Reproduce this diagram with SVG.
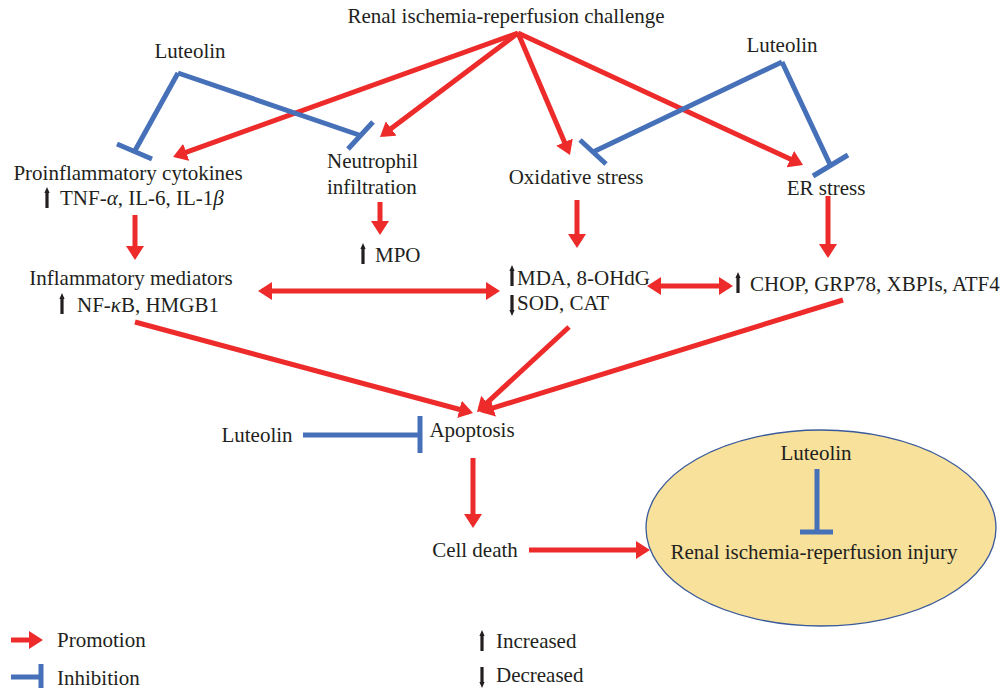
<svg xmlns="http://www.w3.org/2000/svg" width="1001" height="688" viewBox="0 0 1001 688" font-family="'Liberation Serif', 'Times New Roman', serif">
<style>
text{font-family:'Liberation Serif','Times New Roman',serif;font-size:21px;fill:#231f20}
.c{text-anchor:middle}
.r{stroke:#ED2B2A;stroke-width:5;fill:none;marker-end:url(#ah)}
.rr{stroke:#ED2B2A;stroke-width:5;fill:none;marker-end:url(#ah);marker-start:url(#ah)}
.b{stroke:#4670B8;stroke-width:5;fill:none}
.k{fill:#231f20}
</style>
<defs>
<marker id="ah" markerUnits="userSpaceOnUse" markerWidth="14" markerHeight="18" refX="10" refY="9" orient="auto-start-reverse">
<path d="M0,0 L14,9 L0,18 Z" fill="#ED2B2A"/>
</marker>
<path id="up" d="M0,0 L2.6,6 L1.6,6 L1.6,21 L-1.6,21 L-1.6,6 L-2.6,6 Z"/>
<path id="dn" d="M0,21 L2.6,15 L1.6,15 L1.6,0 L-1.6,0 L-1.6,15 L-2.6,15 Z"/>
</defs>
<rect width="1001" height="688" fill="#fff"/>

<g id="injury-ellipse">
<ellipse cx="821" cy="528" rx="175" ry="98" fill="#F7E19B" stroke="#3A5A9A" stroke-width="1.3"/>
</g>

<g id="connectors">
<path class="r" d="M518,33 L176.8,155.6"/>
<path class="r" d="M518,33 L383.2,134.6"/>
<path class="r" d="M518,33 L568.4,151.3"/>
<path class="r" d="M518,33 L799.4,163.3"/>
<path class="r" d="M135,215 L135,256"/>
<path class="r" d="M380,202 L380,231"/>
<path class="r" d="M577,200 L577,244"/>
<path class="r" d="M828,196 L828,254"/>
<path class="rr" d="M262,291 L496,291"/>
<path class="rr" d="M651,286 L729,286"/>
<path class="r" d="M135,322 L469.1,412"/>
<path class="r" d="M569,327 L479.9,409.3"/>
<path class="r" d="M843,300 L483.8,410.8"/>
<path class="r" d="M473,458 L473,524"/>
<path class="r" d="M529,550 L646,550"/>
<path class="b" d="M178,73 L134.5,151.5 M117,144 L152,159"/>
<path class="b" d="M178,73 L360.5,135.5 M348,149 L373,122"/>
<path class="b" d="M782,62 L593,152 M580,140 L606,164"/>
<path class="b" d="M782,62 L830.5,165.5 M813,176 L848,155"/>
<path class="b" d="M303,435 L420,435 M420,416 L420,453"/>
<path class="b" d="M817,469 L817,532 M800,532 L833,532"/>
</g>

<g id="title"><text class="c" x="506" y="23">Renal ischemia-reperfusion challenge</text></g>
<g id="luteolin-left"><text class="c" x="190" y="58">Luteolin</text></g>
<g id="luteolin-right"><text class="c" x="782" y="52">Luteolin</text></g>
<g id="proinflammatory">
<text class="c" x="128" y="180">Proinflammatory cytokines</text>
<use href="#up" class="k" x="47" y="187"/>
<text x="60" y="205">TNF-<tspan font-style="italic">α</tspan>, IL-6, IL-1<tspan font-style="italic">β</tspan></text>
</g>
<g id="neutrophil">
<text x="327" y="168">Neutrophil</text>
<text x="327" y="194">infiltration</text>
</g>
<g id="mpo">
<use href="#up" class="k" x="363" y="243"/>
<text x="375" y="262">MPO</text>
</g>
<g id="oxidative"><text class="c" x="576" y="184">Oxidative stress</text></g>
<g id="er"><text class="c" x="826" y="195">ER stress</text></g>
<g id="mediators">
<text class="c" x="131" y="285">Inflammatory mediators</text>
<use href="#up" class="k" x="62" y="293"/>
<text x="77" y="312">NF-<tspan font-style="italic">κ</tspan>B, HMGB1</text>
</g>
<g id="oxidative-markers">
<use href="#up" class="k" x="512" y="265"/>
<text x="517" y="285">MDA, 8-OHdG</text>
<use href="#dn" class="k" x="512" y="295"/>
<text x="517" y="310">SOD, CAT</text>
</g>
<g id="er-markers">
<use href="#up" class="k" x="738" y="272"/>
<text x="750" y="291">CHOP, GRP78, XBPIs, ATF4</text>
</g>
<g id="luteolin-apoptosis"><text class="c" x="257" y="442">Luteolin</text></g>
<g id="apoptosis"><text class="c" x="472" y="437">Apoptosis</text></g>
<g id="cell-death"><text class="c" x="475" y="557">Cell death</text></g>
<g id="injury">
<text class="c" x="816" y="460">Luteolin</text>
<text class="c" x="814" y="559">Renal ischemia-reperfusion injury</text>
</g>
<g id="legend">
<path class="r" d="M11,640 L39,640"/>
<text x="57" y="647">Promotion</text>
<path class="b" d="M11,677 L41,677 M41,664 L41,688"/>
<text x="57" y="685">Inhibition</text>
<use href="#up" class="k" x="482" y="630"/>
<text x="496" y="648">Increased</text>
<use href="#dn" class="k" x="482" y="667"/>
<text x="496" y="682">Decreased</text>
</g>
</svg>
